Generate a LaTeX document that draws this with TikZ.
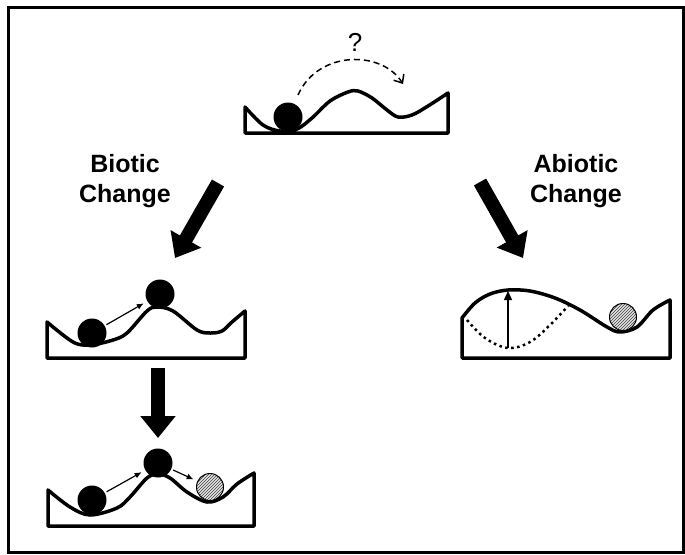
\documentclass[tikz,border=0pt]{standalone}
\usepackage{fontspec}
\setmainfont{Liberation Sans}
\usetikzlibrary{arrows.meta,patterns}

\begin{document}
\begin{tikzpicture}[>=Latex, x=1pt, y=-1pt,
  ground/.style={line width=3.5pt, line join=round},
  ball/.style={circle, fill=black, minimum size=29pt, inner sep=0pt},
  newball/.style={circle, draw, line width=1pt, preaction={fill=gray!20},
    pattern=north east lines, pattern color=black!75,
    minimum size=27pt, inner sep=0pt},
  push/.style={-{Latex[length=7pt,width=6pt]}, line width=1.2pt,
    shorten >=4pt, shorten <=2pt},
  bigarrow/.style={line width=14pt, -{Triangle[length=22pt,width=34pt]}},
  changetext/.style={font=\bfseries\fontsize{25}{30}\selectfont, align=center}]
  \useasboundingbox (0,0) rectangle (685,554);
  %
  % Frame
  \draw[line width=3pt] (8,7) rectangle (683,552);
  %
  % Top landscape
  \draw[ground] (448,133) -- (245,133) -- plot[smooth, tension=0.55] coordinates
    {(245,107) (263,125) (280,131) (297,129) (312,118) (330,101) (348,92)
     (358,91) (372,98) (387,110) (398,117) (412,115) (428,106) (448,93)}
    -- cycle;
  \node[ball] (b0) at (288,117) {};
  \coordinate (q0) at (298,95);
  \coordinate (q1) at (403,84);
  \draw[line width=1.5pt, dash pattern=on 6pt off 4pt,
    -{Straight Barb[length=7pt,width=12pt]}]
    (q0) .. controls (318,50) and (382,50) .. (q1);
  \node[font=\fontsize{26}{30}\selectfont] (qm) at (355,42) {?};
  %
  % Labels
  \node[changetext] (biotic) at (125,181) {Biotic\\Change};
  \node[changetext] (abiotic) at (576,181) {Abiotic\\Change};
  %
  % Big arrows
  \coordinate (bt) at (218,183);
  \coordinate (bh) at (175,258);
  \coordinate (at) at (480,182);
  \coordinate (ah) at (523,258);
  \coordinate (dt) at (158,368);
  \coordinate (dh) at (158,438);
  \draw[bigarrow] (bt) -- (bh);
  \draw[bigarrow] (at) -- (ah);
  \draw[bigarrow] (dt) -- (dh);
  %
  % Middle left landscape
  \draw[ground] (245,358) -- (47,358) -- plot[smooth, tension=0.55] coordinates
    {(47,322) (73,342) (90,345) (113,340) (127,333) (147,311) (157,307)
     (173,311) (197,330) (210,333) (222,331) (232,322) (245,311)}
    -- cycle;
  \node[ball] (m1) at (92,333) {};
  \node[ball] (m2) at (160,294) {};
  \draw[push] (m1) -- (m2);
  %
  % Bottom left landscape
  \draw[ground] (254,526) -- (48,526) -- plot[smooth, tension=0.55] coordinates
    {(48,490) (70,507) (90,515) (117,508) (130,497) (147,478) (158,474)
     (170,478) (187,492) (207,502) (223,497) (237,484) (254,473)}
    -- cycle;
  \node[ball] (l1) at (92,500) {};
  \node[ball] (l2) at (158,463) {};
  \node[newball] (l3) at (210,487) {};
  \draw[push] (l1) -- (l2);
  \draw[push] (l2) -- (l3);
  %
  % Right landscape
  \draw[ground] (670,358) -- (462,358) -- plot[smooth, tension=0.55] coordinates
    {(462,318) (475,303) (490,294) (508,290) (530,291) (555,298) (580,310)
     (607,327) (620,332) (637,327) (653,310) (670,300)}
    -- cycle;
  \draw[line width=2.5pt, dash pattern=on 2.5pt off 3.5pt]
    plot[smooth, tension=0.6] coordinates
    {(467,320) (485,338) (508,348) (530,342) (550,325) (568,306)};
  \node[newball] (r1) at (623,317) {};
  \coordinate (u0) at (508,348);
  \coordinate (u1) at (508,291);
  \draw[line width=1.3pt, -{Triangle[length=9pt,width=8pt]}] (u0) -- (u1);
  %
\end{tikzpicture}
\end{document}
